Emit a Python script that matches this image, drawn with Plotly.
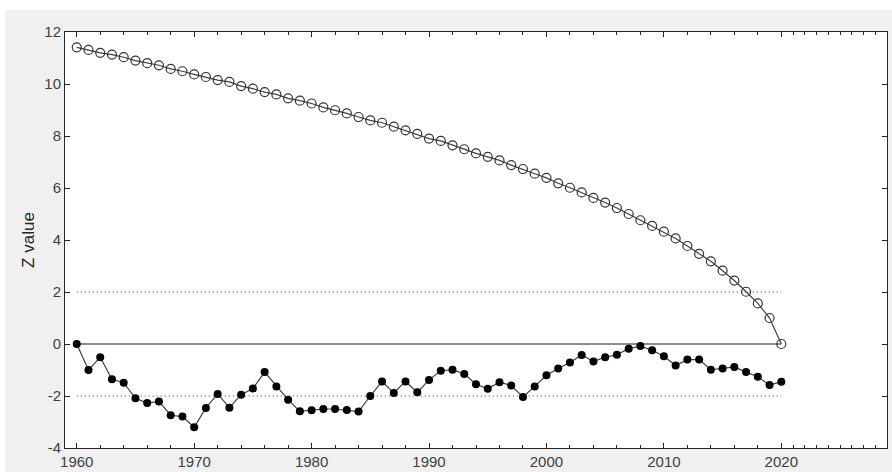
import plotly.graph_objects as go

years = list(range(1960, 2021))

uf_values = [11.41, 11.31, 11.20, 11.13, 11.03, 10.90, 10.80, 10.72, 10.58, 10.49,
             10.37, 10.27, 10.15, 10.08, 9.92, 9.82, 9.69, 9.60, 9.45, 9.36,
             9.25, 9.10, 8.99, 8.87, 8.73, 8.60, 8.51, 8.36, 8.22, 8.08,
             7.90, 7.81, 7.64, 7.49, 7.33, 7.20, 7.06, 6.88, 6.73, 6.55,
             6.39, 6.18, 6.01, 5.83, 5.62, 5.44, 5.23, 5.00, 4.76, 4.54,
             4.32, 4.06, 3.77, 3.47, 3.18, 2.82, 2.44, 2.01, 1.56, 1.00,
             0.00]

ub_values = [0.00, -1.00, -0.51, -1.36, -1.49, -2.09, -2.27, -2.21, -2.74, -2.79,
             -3.20, -2.46, -1.92, -2.45, -1.95, -1.71, -1.08, -1.63, -2.14, -2.59,
             -2.55, -2.50, -2.50, -2.54, -2.60, -2.00, -1.44, -1.88, -1.44, -1.86,
             -1.38, -1.03, -0.99, -1.15, -1.55, -1.72, -1.47, -1.60, -2.04, -1.63,
             -1.20, -0.94, -0.71, -0.42, -0.67, -0.51, -0.41, -0.18, -0.08, -0.24,
             -0.47, -0.83, -0.60, -0.60, -0.99, -0.94, -0.88, -1.08, -1.26, -1.58,
             -1.45]

ref_x = [1960, 2020]
crit_upper = [2, 2]
crit_lower = [-2, -2]
zero_line = [0, 0]

x_ticks = [1960, 1970, 1980, 1990, 2000, 2010, 2020]
x_minor = list(range(1962, 2020, 2)) + list(range(2021, 2029))
y_ticks = [-4, -2, 0, 2, 4, 6, 8, 10, 12]
y_ticklabels = ["-4", "-2", "0", "2", "4", "6", "8", "10", "12"]

axis_color = "#262626"
text_color = "#404040"
line_color = "#404040"

fig = go.Figure()

fig.add_trace(go.Scatter(x=ref_x, y=crit_upper, mode="lines",
                         line=dict(color=line_color, width=1, dash="1px,3px"),
                         showlegend=False, hoverinfo="skip"))
fig.add_trace(go.Scatter(x=ref_x, y=crit_lower, mode="lines",
                         line=dict(color=line_color, width=1, dash="1px,3px"),
                         showlegend=False, hoverinfo="skip"))
fig.add_trace(go.Scatter(x=ref_x, y=zero_line, mode="lines",
                         line=dict(color="#1a1a1a", width=1.2),
                         showlegend=False, hoverinfo="skip"))

fig.add_trace(go.Scatter(x=years, y=uf_values, mode="lines+markers", name="UF",
                         line=dict(color=line_color, width=1.2),
                         marker=dict(symbol="circle-open", size=9,
                                     color="#333333", line=dict(width=1.2, color="#333333")),
                         showlegend=False))
fig.add_trace(go.Scatter(x=years, y=ub_values, mode="lines+markers", name="UB",
                         line=dict(color=line_color, width=1.2),
                         marker=dict(symbol="circle", size=8, color="#000000"),
                         showlegend=False))

font_family = "Liberation Sans, Arial, sans-serif"

fig.update_layout(
    width=892, height=472,
    margin=dict(l=65, r=5, t=32, b=24),
    paper_bgcolor="#f0f0f0",
    plot_bgcolor="#ffffff",
    font=dict(family=font_family, size=15, color=text_color),
    xaxis=dict(
        range=[1959, 2029], automargin=False,
        tickmode="array", tickvals=x_ticks, ticktext=[str(v) for v in x_ticks],
        ticks="inside", ticklen=5, tickcolor=axis_color, tickwidth=1,
        showline=True, linecolor=axis_color, linewidth=1, mirror="allticks",
        showgrid=False, zeroline=False,
        minor=dict(tickmode="array", tickvals=x_minor, ticks="inside", ticklen=3,
                   tickcolor=axis_color, showgrid=False),
        tickfont=dict(family=font_family, size=15, color=text_color),
    ),
    yaxis=dict(
        range=[-4, 12], automargin=False,
        tickmode="array", tickvals=y_ticks, ticktext=y_ticklabels,
        ticks="inside", ticklen=5, tickcolor=axis_color, tickwidth=1,
        showline=True, linecolor=axis_color, linewidth=1, mirror="allticks",
        showgrid=False, zeroline=False,
        tickfont=dict(family=font_family, size=15, color=text_color),
        title=dict(text="Z value", font=dict(family=font_family, size=17, color="#262626"), standoff=5),
    ),
    shapes=[
        dict(type="rect", xref="paper", yref="paper",
             x0=-0.2, x1=1.2, y0=(448 - 10) / 416, y1=1.2,
             fillcolor="#ffffff", line=dict(width=0), layer="above"),
        dict(type="rect", xref="paper", yref="paper",
             x0=-0.2, x1=(5 - 65) / 822, y0=-0.2, y1=1.2,
             fillcolor="#ffffff", line=dict(width=0), layer="above"),
    ],
)

fig.write_html("out.html")
